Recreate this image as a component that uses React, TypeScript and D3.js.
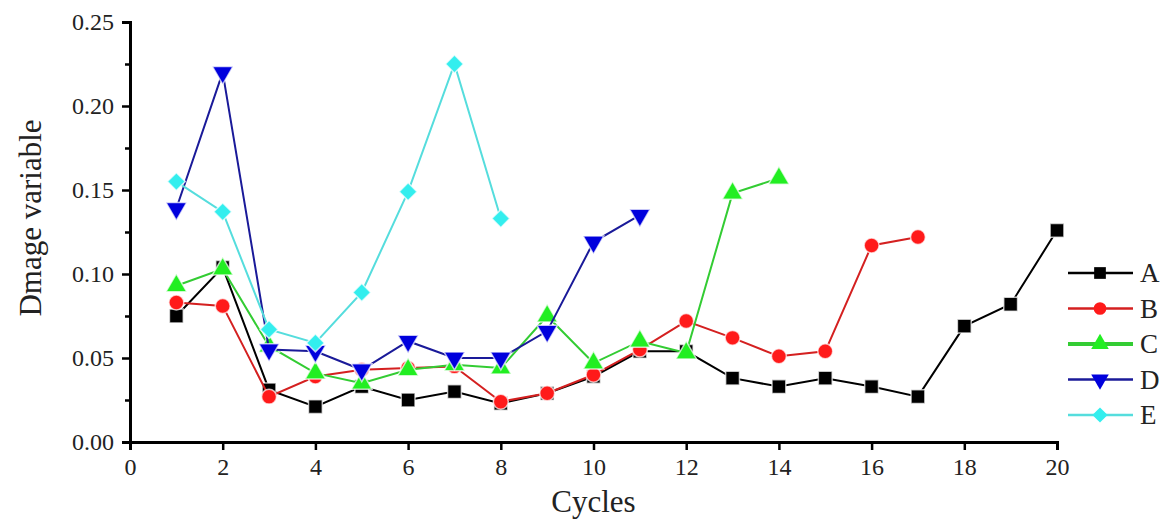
import { useEffect, useRef } from 'react'
import * as d3 from 'd3'

const cyclesA = d3.range(1, 21)
const seriesA = [0.075, 0.104, 0.031, 0.021, 0.033, 0.025, 0.030, 0.023, 0.029, 0.039, 0.054, 0.054, 0.038, 0.033, 0.038, 0.033, 0.027, 0.069, 0.082, 0.126]
const seriesB = [0.083, 0.081, 0.027, 0.039, 0.043, 0.044, 0.045, 0.024, 0.029, 0.040, 0.055, 0.072, 0.062, 0.051, 0.054, 0.117, 0.122]
const seriesC = [0.093, 0.103, 0.057, 0.041, 0.035, 0.043, 0.046, 0.044, 0.075, 0.047, 0.060, 0.053, 0.148, 0.157]
const seriesD = [0.139, 0.220, 0.055, 0.054, 0.043, 0.060, 0.050, 0.050, 0.066, 0.119, 0.135]
const seriesE = [0.155, 0.137, 0.067, 0.059, 0.089, 0.149, 0.225, 0.133]

const xTicks = [0, 2, 4, 6, 8, 10, 12, 14, 16, 18, 20]
const yTicks = [0, 0.05, 0.1, 0.15, 0.2, 0.25]
const yMinor = [0.025, 0.075, 0.125, 0.175, 0.225]

const series = [
  { name: 'A', values: seriesA, line: '#000000', fill: '#000000', shape: 'square' },
  { name: 'B', values: seriesB, line: '#d42020', fill: '#ff1a1a', shape: 'circle' },
  { name: 'C', values: seriesC, line: '#33cc33', fill: '#22ee22', shape: 'triangle' },
  { name: 'D', values: seriesD, line: '#1a1a99', fill: '#0000dd', shape: 'down' },
  { name: 'E', values: seriesE, line: '#55dddd', fill: '#33eeee', shape: 'diamond' },
]

const W = 1166
const H = 527
const m = { left: 130, right: 109, top: 22, bottom: 85 }
const FONT = "'Liberation Serif', Tinos, 'Times New Roman', 'DejaVu Serif', serif"

function symbolFor(shape: string) {
  if (shape === 'square') return d3.symbol(d3.symbolSquare, 190)
  if (shape === 'circle') return d3.symbol(d3.symbolCircle, 175)
  if (shape === 'triangle' || shape === 'down') return d3.symbol(d3.symbolTriangle, 185)
  return d3.symbol(d3.symbolSquare, 160)
}

function rot(shape: string) {
  if (shape === 'down') return ' rotate(180)'
  if (shape === 'diamond') return ' rotate(45)'
  return ''
}

export default function App() {
  const svgRef = useRef<SVGSVGElement>(null)

  useEffect(() => {
    if (!svgRef.current) return
    const svg = d3.select(svgRef.current)
    svg.selectAll('*').remove()

    const x = d3.scaleLinear().domain([0, 20]).range([m.left, W - m.right])
    const y = d3.scaleLinear().domain([0, 0.25]).range([H - m.bottom, m.top])

    svg.append('rect').attr('width', W).attr('height', H).attr('fill', '#fff')

    const xAx = svg.append('g').attr('transform', `translate(0,${y(0)})`)
      .call(d3.axisBottom(x).tickValues(xTicks).tickSize(8).tickPadding(8).tickFormat(d3.format('d')))
    const yAx = svg.append('g').attr('transform', `translate(${x(0)},0)`)
      .call(d3.axisLeft(y).tickValues(yTicks).tickSize(8).tickPadding(8).tickFormat(d3.format('.2f')))
    svg.append('g').attr('transform', `translate(${x(0)},0)`)
      .call(d3.axisLeft(y).tickValues(yMinor).tickSize(5).tickFormat(() => ''))
      .call(ax => {
        ax.select('.domain').remove()
        ax.selectAll('line').attr('stroke', '#000').attr('stroke-width', 2.5)
      })
    ;[xAx, yAx].forEach(ax => {
      ax.attr('font-family', FONT)
      ax.select('.domain').attr('stroke', '#000').attr('stroke-width', 3)
      ax.selectAll('line').attr('stroke', '#000').attr('stroke-width', 2.5)
      ax.selectAll('text').attr('fill', '#222').attr('font-size', 24).style('font-family', FONT)
    })

    series.forEach(s => {
      const pts = s.values.map((v, i) => ({ c: cyclesA[i], v }))
      const line = d3.line<{ c: number; v: number }>().x(d => x(d.c)).y(d => y(d.v))
      svg.append('path').datum(pts).attr('d', line)
        .attr('fill', 'none').attr('stroke', s.line).attr('stroke-width', 2)
      const sym = symbolFor(s.shape)
      svg.append('g').selectAll('path').data(pts).join('path')
        .attr('d', sym() as string)
        .attr('transform', d => `translate(${x(d.c)},${y(d.v)})${rot(s.shape)}`)
        .attr('fill', s.fill)
        .attr('stroke', '#fff').attr('stroke-width', 1.5).attr('stroke-opacity', 0.7)
    })

    const lg = svg.append('g').attr('transform', 'translate(1068,273)')
    series.forEach((s, i) => {
      const row = lg.append('g').attr('transform', `translate(0,${i * 35.5})`)
      row.append('line').attr('x1', 0).attr('x2', 65).attr('y1', 0).attr('y2', 0)
        .attr('stroke', s.line).attr('stroke-width', s.name === 'C' ? 4 : 2.5)
      row.append('path').attr('d', symbolFor(s.shape)() as string)
        .attr('transform', `translate(32,0)${rot(s.shape)} scale(0.85)`)
        .attr('fill', s.fill)
      row.append('text').attr('x', 72).attr('y', 9).text(s.name)
        .style('font-family', FONT).attr('font-size', 27).attr('fill', '#222')
    })

    svg.append('text').attr('x', x(10)).attr('y', 512).attr('text-anchor', 'middle')
      .style('font-family', FONT).attr('font-size', 31).attr('fill', '#222').text('Cycles')
    svg.append('text').attr('transform', `translate(41,218) rotate(-90)`).attr('text-anchor', 'middle')
      .style('font-family', FONT).attr('font-size', 31).attr('fill', '#222').text('Dmage variable')
  }, [])

  return (
    <div style={{ position: 'absolute', left: 0, top: 0 }}>
      <svg ref={svgRef} width={W} height={H} style={{ display: 'block' }} />
    </div>
  )
}
